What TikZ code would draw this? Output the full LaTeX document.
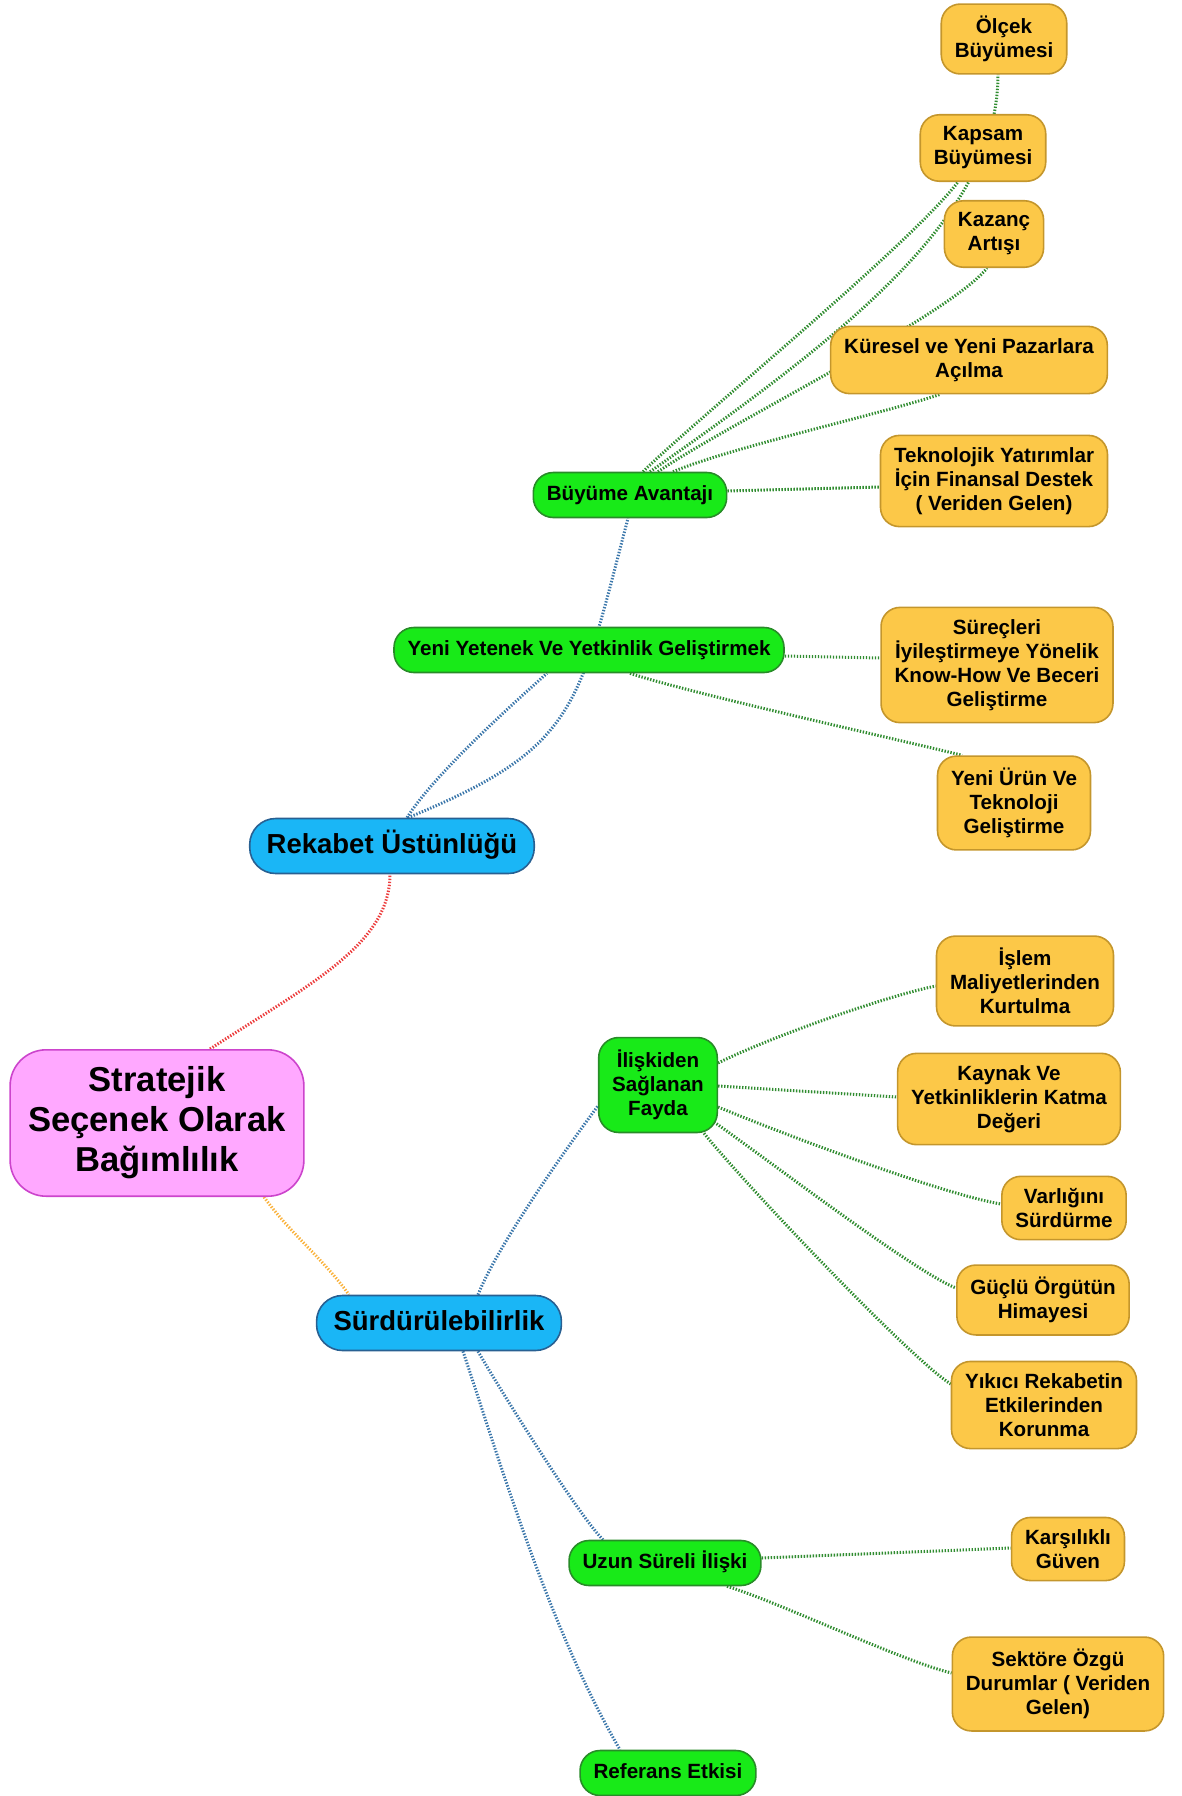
\documentclass[tikz,border=0pt]{standalone}
\usepackage{fontspec}
\setmainfont{Liberation Sans}
\usetikzlibrary{backgrounds}

\definecolor{rootfill}{RGB}{255,168,255}
\definecolor{rootline}{RGB}{204,68,204}
\definecolor{mainfill}{RGB}{26,182,246}
\definecolor{mainline}{RGB}{40,96,146}
\definecolor{subfill}{RGB}{24,234,24}
\definecolor{subline}{RGB}{40,140,40}
\definecolor{leaffill}{RGB}{252,200,72}
\definecolor{leafline}{RGB}{196,150,44}
\definecolor{redlink}{RGB}{236,60,60}
\definecolor{orangelink}{RGB}{250,178,60}
\definecolor{bluelink}{RGB}{58,118,170}
\definecolor{greenlink}{RGB}{48,140,48}

\begin{document}
\begin{tikzpicture}[x=1pt,y=-1pt,
    root/.style={draw=rootline,fill=rootfill,line width=1.6pt,rounded corners=36pt,
        align=center,inner xsep=18pt,inner ysep=17pt,
        font=\bfseries\fontsize{34.6}{40}\selectfont},
    main/.style={draw=mainline,fill=mainfill,line width=1.6pt,rounded corners=26pt,
        inner xsep=17pt,inner ysep=14pt,text height=21pt,text depth=6pt,
        font=\bfseries\fontsize{27.5}{32}\selectfont},
    sub/.style={draw=subline,fill=subfill,line width=1.6pt,rounded corners=20pt,
        align=center,inner xsep=13.5pt,inner ysep=12.5pt,
        font=\bfseries\fontsize{20.6}{24}\selectfont},
    subline/.style={sub,text height=15.5pt,text depth=4.5pt},
    leaf/.style={draw=leafline,fill=leaffill,line width=1.6pt,rounded corners=19pt,
        align=center,inner xsep=13.5pt,inner ysep=12pt,
        font=\bfseries\fontsize{20.6}{24}\selectfont},
    conn/.style={line width=3pt,dash pattern=on 1.4pt off 1.6pt}]
\useasboundingbox (0,0) rectangle (1182,1796);

% centre and first level
\node[root] (root) at (157,1123) {Stratejik\\Seçenek Olarak\\Bağımlılık};
\node[main] (rek) at (392,846) {Rekabet Üstünlüğü};
\node[main] (surd) at (439,1323) {Sürdürülebilirlik};

\node[subline] (buy) at (630,495) {Büyüme Avantajı};
\node[subline] (yen) at (589,650) {Yeni Yetenek Ve Yetkinlik Geliştirmek};
\node[sub] (ilis) at (658,1085) {İlişkiden\\Sağlanan\\Fayda};
\node[subline] (uzun) at (665,1563) {Uzun Süreli İlişki};
\node[subline] (ref) at (668,1773) {Referans Etkisi};

% leaves
\node[leaf] (olcek) at (1004,39) {Ölçek\\Büyümesi};
\node[leaf] (kapsam) at (983,148) {Kapsam\\Büyümesi};
\node[leaf] (kazanc) at (994,234) {Kazanç\\Artışı};
\node[leaf] (kuresel) at (969,360) {Küresel ve Yeni Pazarlara\\Açılma};
\node[leaf] (tekno) at (994,481) {Teknolojik Yatırımlar\\İçin Finansal Destek\\( Veriden Gelen)};
\node[leaf] (surec) at (997,665) {Süreçleri\\İyileştirmeye Yönelik\\Know-How Ve Beceri\\Geliştirme};
\node[leaf] (urun) at (1014,803) {Yeni Ürün Ve\\Teknoloji\\Geliştirme};
\node[leaf] (islem) at (1025,981) {İşlem\\Maliyetlerinden\\Kurtulma};
\node[leaf] (kaynak) at (1009,1099) {Kaynak Ve\\Yetkinliklerin Katma\\Değeri};
\node[leaf] (varlik) at (1064,1208) {Varlığını\\Sürdürme};
\node[leaf] (guclu) at (1043,1300) {Güçlü Örgütün\\Himayesi};
\node[leaf] (yikici) at (1044,1405) {Yıkıcı Rekabetin\\Etkilerinden\\Korunma};
\node[leaf] (karsi) at (1068,1549) {Karşılıklı\\Güven};
\node[leaf] (sektor) at (1058,1684) {Sektöre Özgü\\Durumlar ( Veriden\\Gelen)};

\begin{scope}[on background layer]
  \draw[conn,redlink] ([xshift=53pt]root.north) .. controls +(100,-65) and +(0,70) .. ([xshift=-2pt]rek.south);
  \draw[conn,orangelink] ([xshift=107pt]root.south) .. controls +(25,35) and +(-25,-35) .. ([xshift=-90pt]surd.north);

  \draw[conn,bluelink] ([xshift=15pt]rek.north) .. controls +(25,-40) and +(-45,40) .. ([xshift=-42pt]yen.south);
  \draw[conn,bluelink] ([xshift=16pt]rek.north) .. controls +(170,-70) and +(-50,190) .. ([xshift=-2pt]buy.south);

  \draw[conn,greenlink] ([xshift=20pt]buy.north) .. controls +(200,-140) and +(0,140) .. ([xshift=-6pt]olcek.south);
  \draw[conn,greenlink] ([xshift=13pt]buy.north) .. controls +(50,-50) and +(-50,65) .. ([xshift=-25pt]kapsam.south);
  \draw[conn,greenlink] ([xshift=28pt]buy.north) .. controls +(70,-48) and +(-37,47) .. ([xshift=-7pt]kazanc.south);
  \draw[conn,greenlink] ([xshift=43pt]buy.north) .. controls +(60,-25) and +(-60,20) .. ([xshift=-29pt]kuresel.south);
  \draw[conn,greenlink] ([yshift=4pt]buy.east) -- ([yshift=-6pt]tekno.west);

  \draw[conn,greenlink] ([yshift=-6pt]yen.east) -- ([yshift=7pt]surec.west);
  \draw[conn,greenlink] ([xshift=41pt]yen.south) .. controls +(60,20) and +(-60,-15) .. ([xshift=-52pt]urun.north);

  \draw[conn,bluelink] ([xshift=39pt]surd.north) .. controls +(20,-50) and +(-30,40) .. ([yshift=-21pt]ilis.west);
  \draw[conn,bluelink] ([xshift=39pt]surd.south) .. controls +(20,35) and +(-25,-25) .. ([xshift=-62pt]uzun.north);
  \draw[conn,bluelink] ([xshift=24pt]surd.south) .. controls +(40,120) and +(-70,-120) .. ([xshift=-48pt]ref.north);

  \draw[conn,greenlink] ([yshift=22pt]ilis.east) .. controls +(50,-25) and +(-50,10) .. ([yshift=-5pt]islem.west);
  \draw[conn,greenlink] ([yshift=-1pt]ilis.east) -- ([yshift=2pt]kaynak.west);
  \draw[conn,greenlink] ([yshift=-22pt]ilis.east) .. controls +(60,25) and +(-60,-10) .. ([yshift=4pt]varlik.west);
  \draw[conn,greenlink] ([xshift=-4pt,yshift=-37pt]ilis.east) .. controls +(50,35) and +(-40,-15) .. ([yshift=12pt]guclu.west);
  \draw[conn,greenlink] ([xshift=46pt]ilis.south) .. controls +(40,50) and +(-40,-25) .. ([yshift=21pt]yikici.west);

  \draw[conn,greenlink] ([yshift=5pt]uzun.east) -- ([yshift=1pt]karsi.west);
  \draw[conn,greenlink] ([xshift=62pt]uzun.south) .. controls +(50,15) and +(-50,-12) .. ([yshift=11pt]sektor.west);
\end{scope}
\end{tikzpicture}
\end{document}
